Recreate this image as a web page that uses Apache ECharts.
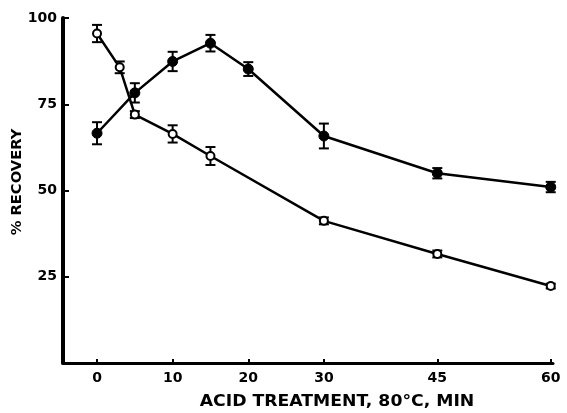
<!DOCTYPE html>
<html>
<head>
<meta charset="utf-8">
<style>
  html, body { margin: 0; padding: 0; background: #fff; }
  #chart { width: 567px; height: 413px; }
</style>
<script src="https://cdn.jsdelivr.net/npm/echarts@6/dist/echarts.min.js"></script>
</head>
<body>
<div id="chart"></div>
<script>
// Acid treatment time (min) at 80 °C
const openTimes = [0, 3, 5, 10, 15, 30, 45, 60];
const openRecovery = [95.5, 85.7, 72, 66.4, 60, 41.2, 31.6, 22.3];
const openError = [2.5, 1.7, 1.0, 2.5, 2.6, 1.0, 1.0, 0.7];

const filledTimes = [0, 5, 10, 15, 20, 30, 45, 60];
const filledRecovery = [66.6, 78.3, 87.4, 92.7, 85.2, 65.8, 55, 51];
const filledError = [3.2, 2.8, 2.8, 2.4, 2.0, 3.6, 1.5, 1.5];

const xTickValues = [0, 10, 20, 30, 45, 60];

const FONT = 'DejaVu Sans';

function pairs(xs, ys) { return xs.map((x, i) => [x, ys[i]]); }
function bars(xs, ys, es) { return xs.map((x, i) => [x, ys[i] - es[i], ys[i] + es[i]]); }

function renderErrorBar(params, api) {
  const x = api.value(0);
  const lo = api.coord([x, api.value(1)]);
  const hi = api.coord([x, api.value(2)]);
  const hw = 5;
  const style = { stroke: '#000', lineWidth: 2 };
  return {
    type: 'group',
    children: [
      { type: 'line', shape: { x1: lo[0], y1: lo[1], x2: hi[0], y2: hi[1] }, style },
      { type: 'line', shape: { x1: lo[0] - hw, y1: lo[1], x2: lo[0] + hw, y2: lo[1] }, style },
      { type: 'line', shape: { x1: hi[0] - hw, y1: hi[1], x2: hi[0] + hw, y2: hi[1] }, style }
    ]
  };
}

const chart = echarts.init(document.getElementById('chart'), null, { renderer: 'canvas' });

chart.setOption({
  animation: false,
  backgroundColor: '#fff',
  grid: { left: 63, right: 14, top: 18, bottom: 50 },
  xAxis: {
    type: 'value',
    min: -4.5,
    max: 60.3,
    axisLine: { onZero: false, lineStyle: { color: '#000', width: 3 } },
    axisTick: {
      inside: true, length: 4, customValues: xTickValues,
      lineStyle: { color: '#000', width: 2 }
    },
    axisLabel: {
      customValues: xTickValues,
      color: '#000', fontFamily: FONT, fontWeight: 'bold', fontSize: 14, margin: 8
    },
    splitLine: { show: false }
  },
  yAxis: {
    type: 'value',
    min: 0,
    max: 100,
    interval: 25,
    axisLine: { show: true, onZero: false, lineStyle: { color: '#000', width: 4 } },
    axisTick: { show: true, inside: true, length: 6, lineStyle: { color: '#000', width: 2 } },
    axisLabel: {
      color: '#000', fontFamily: FONT, fontWeight: 'bold', fontSize: 14, margin: 6,
      formatter: v => (v === 0 ? '' : String(v))
    },
    splitLine: { show: false }
  },
  graphic: [
    {
      type: 'text', rotation: Math.PI / 2,
      x: 17, y: 182, scaleX: 1.05,
      style: {
        text: '% RECOVERY', fill: '#000', font: 'bold 14px "DejaVu Sans"',
        textAlign: 'center', textVerticalAlign: 'middle'
      }
    },
    {
      type: 'text', x: 337, y: 402, scaleX: 1.15,
      style: {
        text: 'ACID TREATMENT, 80°C, MIN', fill: '#000', font: 'bold 15px "DejaVu Sans"',
        textAlign: 'center', textVerticalAlign: 'middle'
      }
    }
  ],
  series: [
    {
      type: 'custom', renderItem: renderErrorBar,
      data: bars(openTimes, openRecovery, openError), z: 1
    },
    {
      type: 'custom', renderItem: renderErrorBar,
      data: bars(filledTimes, filledRecovery, filledError), z: 1
    },
    {
      type: 'line', data: pairs(openTimes, openRecovery),
      symbol: 'circle', symbolSize: 8,
      lineStyle: { color: '#000', width: 2.5 },
      itemStyle: { color: '#fff', borderColor: '#000', borderWidth: 2 },
      z: 3
    },
    {
      type: 'line', data: pairs(filledTimes, filledRecovery),
      symbol: 'circle', symbolSize: 10,
      lineStyle: { color: '#000', width: 2.5 },
      itemStyle: { color: '#000', borderColor: '#000', borderWidth: 1 },
      z: 3
    }
  ]
});
</script>
</body>
</html>
